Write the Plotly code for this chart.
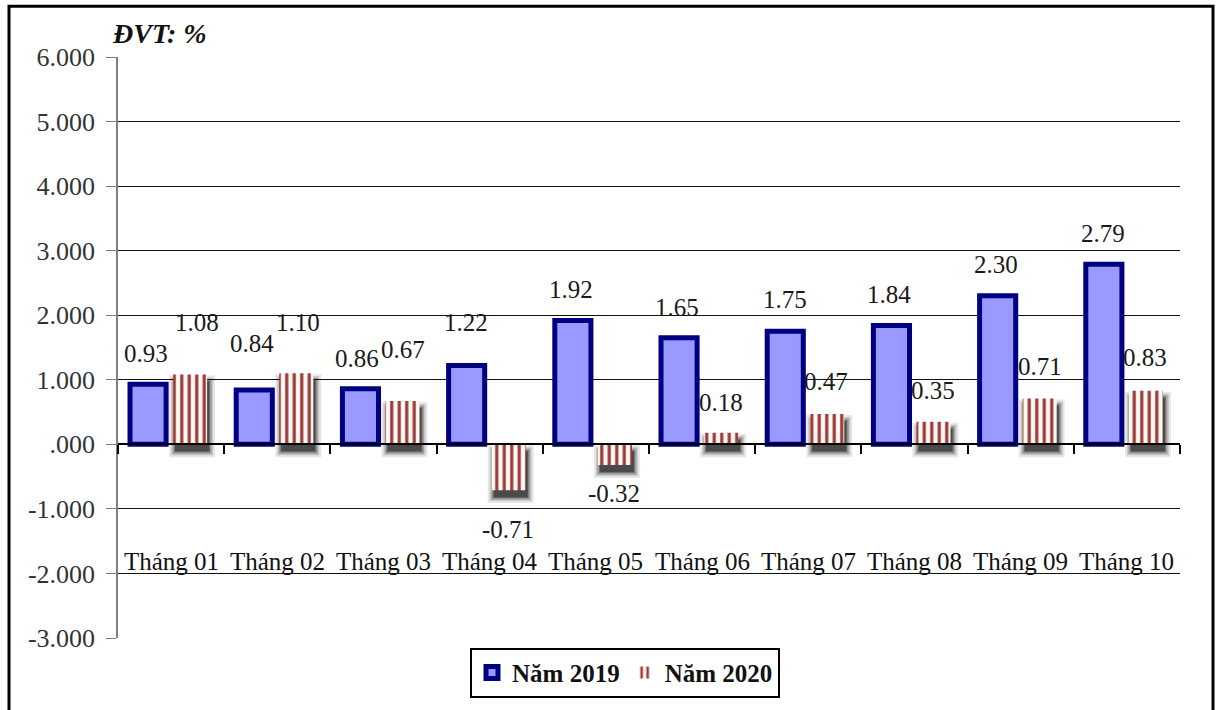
import plotly.graph_objects as go

# Monthly rates, 2019 vs 2020
months = ["Tháng 01", "Tháng 02", "Tháng 03", "Tháng 04", "Tháng 05",
          "Tháng 06", "Tháng 07", "Tháng 08", "Tháng 09", "Tháng 10"]
values_2019 = [0.93, 0.84, 0.86, 1.22, 1.92, 1.65, 1.75, 1.84, 2.30, 2.79]
values_2020 = [1.08, 1.10, 0.67, -0.71, -0.32, 0.18, 0.47, 0.35, 0.71, 0.83]

y_tick_vals = [-3, -2, -1, 0, 1, 2, 3, 4, 5, 6]
y_tick_text = ["-3.000", "-2.000", "-1.000", ".000", "1.000",
               "2.000", "3.000", "4.000", "5.000", "6.000"]

# label nudges in pixels (x right, y away from the bar end)
lab_dx_2019 = [-2, -2, -3, -1, -2, -2, 0, -2, -2, -1]
lab_dy_2019 = [31, 47, 30, 43, 31, 30, 32, 31, 31, 31]
lab_dx_2020 = [7, 2, 0, -1, -1, 0, -1, -1, 0, -1]
lab_dy_2020 = [52, 51, 52, 39, 29, 30, 32, 31, 32, 33]

SERIF = "Liberation Serif"
W, H = 1216, 710
M_L, M_R, M_T, M_B = 118, 36, 57, 69
PW, PH = W - M_L - M_R, H - M_T - M_B
PX_X = PW / len(months)      # pixels per category
PX_Y = PH / 9.0              # pixels per unit

BLUE_W, BLUE_C = 0.34, -0.217
RED_W, RED_C = 0.32, 0.179

xs = list(range(len(months)))
fig = go.Figure()

# soft drop shadow behind the 2020 bars (stacked translucent layers)
for spread, alpha in [(6, 0.10), (4, 0.15), (2.5, 0.22), (1, 0.3), (0, 0.4)]:
    sx = spread / PX_X
    sy = spread / PX_Y
    fig.add_trace(go.Bar(
        x=xs,
        base=[min(v, 0) - 7 / PX_Y - sy for v in values_2020],
        y=[abs(v) + 2 * sy for v in values_2020],
        width=RED_W + 2 * sx,
        offset=RED_C - RED_W / 2 + 2 / PX_X - sx,
        marker=dict(color=f"rgba(15,15,15,{alpha})", line=dict(width=0)),
        showlegend=False, hoverinfo="skip",
    ))

fig.add_trace(go.Bar(
    x=xs, y=values_2019, name="<b>Năm 2019</b>",
    width=BLUE_W, offset=BLUE_C - BLUE_W / 2,
    marker=dict(color="#9999FF", line=dict(color="#000080", width=5)),
))
fig.add_trace(go.Bar(
    x=xs, y=values_2020, name="<b>Năm 2020</b>",
    width=RED_W, offset=RED_C - RED_W / 2,
    marker=dict(
        color="#993333",
        line=dict(width=0),
        pattern=dict(shape="|", size=7.5, solidity=0.42,
                     fgcolor="#993838", bgcolor="#FFF8F2", fillmode="replace"),
    ),
))

annotations = []
lab_font = dict(family=SERIF, size=25, color="#1a1a1a")
for i, v in enumerate(values_2019):
    annotations.append(dict(
        x=i + BLUE_C, y=v, text=f"{v:.2f}", showarrow=False,
        xshift=lab_dx_2019[i], yshift=lab_dy_2019[i] if v >= 0 else -lab_dy_2019[i],
        xanchor="center", yanchor="middle", font=lab_font,
    ))
for i, v in enumerate(values_2020):
    annotations.append(dict(
        x=i + RED_C, y=v, text=f"{v:.2f}", showarrow=False,
        xshift=lab_dx_2020[i], yshift=lab_dy_2020[i] if v >= 0 else -lab_dy_2020[i],
        xanchor="center", yanchor="middle", font=lab_font,
    ))
# month names sitting on the -2 gridline
for i, m in enumerate(months):
    annotations.append(dict(
        x=i, y=-2, text=m, showarrow=False, yshift=-4,
        xanchor="center", yanchor="bottom",
        font=dict(family=SERIF, size=25, color="#111111"),
    ))
# unit caption
annotations.append(dict(
    x=(110 - M_L) / PW, y=(H - M_B - 33) / PH,
    xref="paper", yref="paper", text="<b><i>ĐVT: %</i></b>", showarrow=False,
    xanchor="left", yanchor="middle",
    font=dict(family=SERIF, size=28, color="#111111"),
))

fig.update_layout(
    width=W, height=H,
    margin=dict(l=M_L, r=M_R, t=M_T, b=M_B, pad=0),
    paper_bgcolor="white", plot_bgcolor="white",
    barmode="overlay",
    annotations=annotations,
    shapes=[dict(
        type="rect", xref="paper", yref="paper",
        x0=(9 - M_L) / PW, x1=(1213 - M_L) / PW,
        y0=(H - M_B - 730) / PH, y1=(H - M_B - 6) / PH,
        line=dict(color="black", width=3), fillcolor="rgba(0,0,0,0)", layer="above",
    )],
    legend=dict(
        orientation="h", x=(625 - M_L) / PW, xanchor="center",
        y=(H - M_B - 676) / PH, yanchor="middle",
        bordercolor="black", borderwidth=2, bgcolor="white",
        font=dict(family=SERIF, size=25, color="#111111"),
        itemwidth=30, traceorder="normal",
    ),
    xaxis=dict(
        type="linear", range=[-0.5, len(months) - 0.5],
        anchor="free", position=1 / 3,
        showline=True, linecolor="black", linewidth=1.5,
        ticks="outside", tickvals=[i - 0.5 for i in range(len(months) + 1)],
        ticklen=9, tickcolor="black", tickwidth=1.5,
        showticklabels=False, showgrid=False, zeroline=False,
    ),
    yaxis=dict(
        range=[-3, 6], tickvals=y_tick_vals, ticktext=y_tick_text,
        showline=True, linecolor="#808080", linewidth=1.5,
        ticks="outside", ticklen=10, tickcolor="#808080",
        ticklabelstandoff=6,
        tickfont=dict(family=SERIF, size=26, color="#333333"),
        showgrid=True, gridcolor="#111111", gridwidth=1.2, zeroline=False,
    ),
    font=dict(family=SERIF),
)

fig.write_html("out.html")
